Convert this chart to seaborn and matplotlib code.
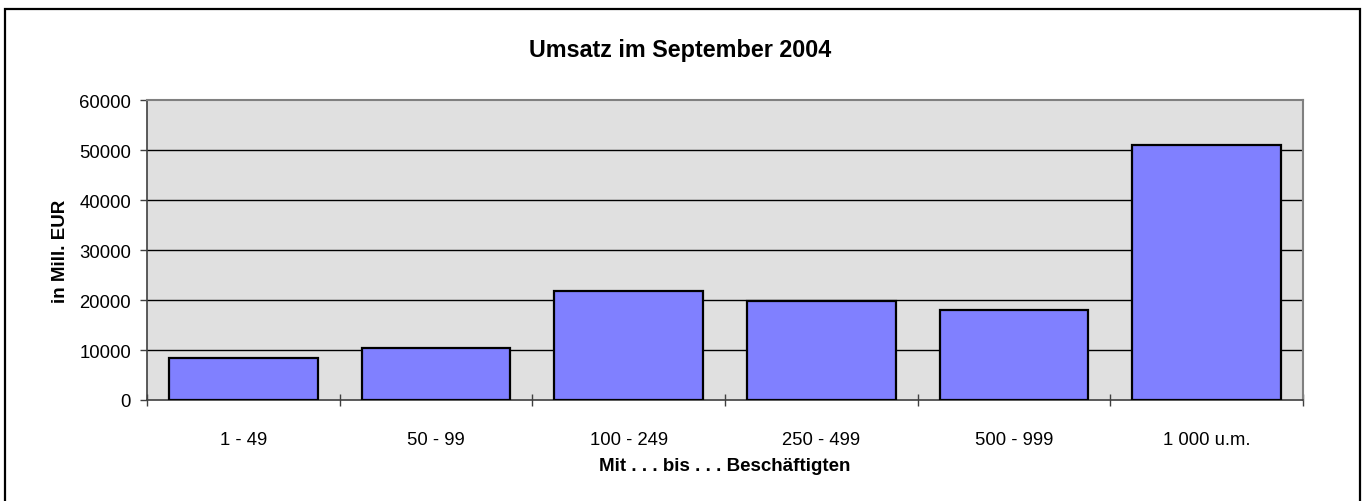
import matplotlib
matplotlib.use("Agg")
import matplotlib.pyplot as plt
import seaborn as sns
import pandas as pd
from matplotlib.patches import Rectangle

# data
groups = ["1 - 49", "50 - 99", "100 - 249", "250 - 499", "500 - 999", "1 000 u.m."]
umsatz = [8320, 10340, 21800, 19800, 17930, 51070]
yticks = [0, 10000, 20000, 30000, 40000, 50000, 60000]

df = pd.DataFrame({"gruppe": groups, "umsatz": umsatz})

sns.set_style("white")
plt.rcParams["font.family"] = ["Liberation Sans", "DejaVu Sans"]
plt.rcParams["text.color"] = "black"
plt.rcParams["axes.labelcolor"] = "black"
plt.rcParams["xtick.color"] = "black"
plt.rcParams["ytick.color"] = "black"

fig = plt.figure(figsize=(13.67, 5.02), dpi=100)
ax = fig.add_axes([147 / 1367, 101 / 502, 1156 / 1367, 300 / 502])
ax.set_facecolor("#E0E0E0")

sns.barplot(data=df, x="gruppe", y="umsatz", color="#8080FF", saturation=1,
            width=0.77, edgecolor="black", linewidth=1.6, ax=ax, zorder=3)

ax.set_ylim(0, 60000)
ax.set_xlim(-0.5, len(groups) - 0.5)
ax.set_yticks(yticks)
ax.set_yticklabels([str(v) for v in yticks], fontsize=13.3)
ax.tick_params(axis="y", left=True, length=5, width=1, color="#404040", pad=6.5)
for v in yticks[1:-1]:
    ax.axhline(v, color="black", linewidth=1, zorder=1)

# category ticks sit between bars, crossing the axis
ax.set_xticks(range(len(groups)))
ax.set_xticklabels(groups, fontsize=13.3)
ax.tick_params(axis="x", which="major", length=0, pad=22)
ax.set_xticks([i + 0.5 for i in range(-1, len(groups))], minor=True)
ax.tick_params(axis="x", which="minor", bottom=True, length=8, width=1,
               direction="inout", color="#404040")

for side in ["top", "right"]:
    ax.spines[side].set_color("#808080")
    ax.spines[side].set_linewidth(1.5)
for side in ["left", "bottom"]:
    ax.spines[side].set_color("#404040")
    ax.spines[side].set_linewidth(1.2)

ax.set_xlabel("Mit . . . bis . . . Beschäftigten", fontsize=13.5, fontweight="bold", labelpad=7)
ax.set_ylabel("in Mill. EUR", fontsize=13.5, fontweight="bold", labelpad=7)
fig.text(680 / 1367, 1 - 50 / 502, "Umsatz im September 2004", ha="center", va="center",
         fontsize=16.8, fontweight="bold")

# outer frame
fig.patches.append(Rectangle((5 / 1367, -0.01), 1355 / 1367, 1 - 10 / 502 + 0.01,
                             transform=fig.transFigure, fill=False,
                             edgecolor="black", linewidth=1.6))

fig.savefig("out.png", dpi=100)
